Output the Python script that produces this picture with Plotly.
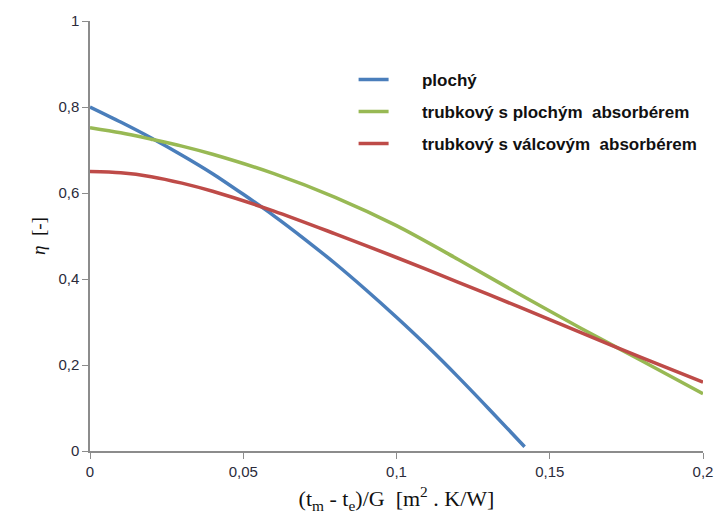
import plotly.graph_objects as go

# Data
x_ploch = [0, 0.01, 0.02, 0.03, 0.04, 0.05, 0.06, 0.07, 0.08, 0.09, 0.10, 0.11, 0.12, 0.13, 0.1418]
y_ploch = [0.800, 0.765, 0.728, 0.688, 0.645, 0.597, 0.547, 0.493, 0.436, 0.375, 0.311, 0.244, 0.173, 0.099, 0.010]

x_tr = [0, 0.01, 0.02, 0.03, 0.04, 0.06, 0.08, 0.10, 0.12, 0.14, 0.16, 0.18, 0.20]
y_tr_plochy = [0.752, 0.740, 0.725, 0.709, 0.690, 0.645, 0.590, 0.524, 0.446, 0.365, 0.286, 0.210, 0.133]
y_tr_valcovy = [0.650, 0.647, 0.638, 0.623, 0.604, 0.558, 0.505, 0.450, 0.393, 0.335, 0.276, 0.217, 0.160]

names = ["plochý", "trubkový s plochým  absorbérem", "trubkový s válcovým  absorbérem"]
colors = ["#4A7EBB", "#98B954", "#BE4B48"]

x_ticks = [0, 0.05, 0.1, 0.15, 0.2]
y_ticks = [0, 0.2, 0.4, 0.6, 0.8, 1]

fig = go.Figure()
series = [(x_ploch, y_ploch), (x_tr, y_tr_plochy), (x_tr, y_tr_valcovy)]
pad = "\u00a0" * 6
for i, ((xs, ys), nm, col) in enumerate(zip(series, names, colors)):
    fig.add_trace(go.Scatter(
        x=xs, y=ys, mode="lines", name=pad + "<b>" + nm.replace("  ", "\u00a0 ") + "</b>",
        line=dict(color=col, width=3.5, shape="spline", smoothing=0.8),
        legendgroup=str(i),
    ))

axis_common = dict(
    showgrid=False, zeroline=False, showline=True, linecolor="#8C8C8C", linewidth=1.5,
    ticks="outside", ticklen=6, tickcolor="#8C8C8C", tickwidth=1.2, automargin=False,
    tickfont=dict(family="Liberation Sans, Arial, sans-serif", size=15, color="#2b2b3b"),
)

fig.update_layout(
    width=716, height=521,
    margin=dict(l=90, r=13, t=21, b=70),
    paper_bgcolor="white", plot_bgcolor="white",
    separators=",.",
    showlegend=True,
    legend=dict(
        x=0.43, y=0.905, xanchor="left", yanchor="top",
        font=dict(family="Liberation Sans, Arial, sans-serif", size=17, color="#111111"),
        tracegroupgap=7, itemwidth=30, bgcolor="rgba(0,0,0,0)",
    ),
    xaxis=dict(range=[0, 0.2], tickvals=x_ticks, **axis_common,
               title=dict(text="(t<sub>m</sub> - t<sub>e</sub>)/G  [m<sup>2</sup> . K/W]",
                          font=dict(family="Liberation Serif, Times New Roman, serif", size=22, color="#111111"),
                          standoff=12)),
    yaxis=dict(range=[0, 1], tickvals=y_ticks, **axis_common,
               title=dict(text="<i>η</i>  [-]",
                          font=dict(family="Liberation Serif, Times New Roman, serif", size=19, color="#111111"),
                          standoff=8)),
)

fig.write_html("out.html")
